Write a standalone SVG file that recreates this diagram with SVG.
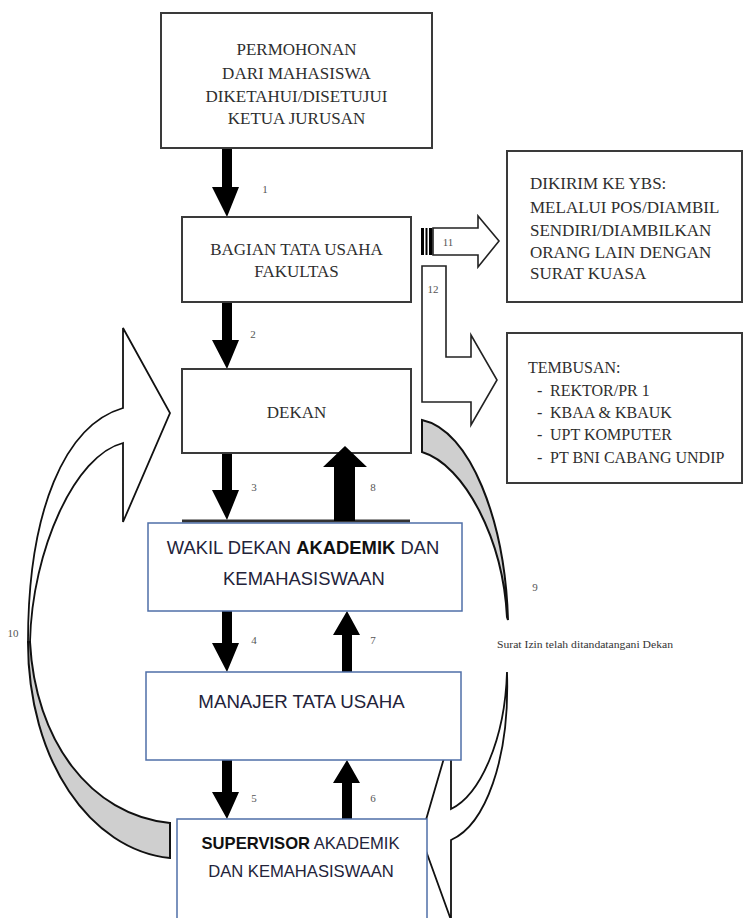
<svg xmlns="http://www.w3.org/2000/svg" width="745" height="918" viewBox="0 0 745 918">
  <style>
    .box { fill: #ffffff; stroke: #3a3a3a; stroke-width: 2; }
    .bluebox { fill: #ffffff; stroke: #4f6fa8; stroke-width: 1.5; }
    .serif { font-family: "Liberation Serif", "Times New Roman", serif; font-size: 17px; fill: #2e2e2e; }
    .serif16 { font-family: "Liberation Serif", "Times New Roman", serif; font-size: 16px; fill: #2e2e2e; }
    .sans { font-family: "Liberation Sans", Arial, sans-serif; fill: #23233a; }
    .num { font-family: "Liberation Serif", "Times New Roman", serif; font-size: 11px; fill: #555555; text-anchor: middle; }
    .mid { text-anchor: middle; }
    .solid { fill: #000000; }
    .hollow { fill: #ffffff; stroke: #222222; stroke-width: 1.6; stroke-linejoin: miter; }
    .curve { fill: #ffffff; stroke: #111111; stroke-width: 1.8; }
    .tail { fill: #cfcfcf; stroke: #111111; stroke-width: 2; }
  </style>

  <!-- curved and block connectors, drawn first so the boxes sit on top -->
  <g id="connectors">
    <!-- 10: return arrow on the left, grey tail at the bottom, head towards DEKAN -->
    <g id="arrow-10">
      <path class="tail" d="M 28,642 C 28,760 90,850 170,858 L 170,823 C 90,815 35,740 30,642 Z"/>
      <path class="curve" d="M 123,328 L 170,413 L 123,522 L 123,443 C 75,455 32,550 30,642 L 28,642 C 28,510 65,425 123,408 Z"/>
    </g>
    <!-- 9: signed letter goes back down on the right -->
    <g id="arrow-9">
      <path class="tail" d="M 422,420 C 470,430 505,520 508,620 L 507,617 C 503,540 465,465 422,452 Z"/>
      <path class="curve" d="M 507,672 C 505,740 480,795 451,809 L 451,734 L 421,837 L 451,920 L 451,840 C 485,825 510,760 507,672 Z"/>
    </g>
    <!-- 11: striped block arrow -->
    <g id="arrow-11">
      <rect class="solid" x="421" y="228" width="3" height="27"/>
      <rect class="solid" x="425.5" y="228" width="2" height="27"/>
      <rect class="solid" x="429" y="228" width="3.5" height="27"/>
      <path class="hollow" d="M 433,228 L 478,228 L 478,216 L 499,241 L 478,267 L 478,255 L 433,255 Z"/>
    </g>
    <!-- 12: bent block arrow -->
    <path id="arrow-12" class="hollow" d="M 422,266 L 446,266 L 446,357 L 471,357 L 471,335 L 497,380 L 471,425 L 471,402 L 422,402 Z"/>

    <!-- straight solid arrows, downward -->
    <path id="arrow-1" class="solid" d="M 222,148 L 232,148 L 232,187 L 239,187 L 227,217 L 212,187 L 222,187 Z"/>
    <path id="arrow-2" class="solid" d="M 222,302 L 232,302 L 232,340 L 239,340 L 227,369 L 212,340 L 222,340 Z"/>
    <path id="arrow-3" class="solid" d="M 222,453 L 232,453 L 232,490 L 239,490 L 227,520 L 212,490 L 222,490 Z"/>
    <path id="arrow-4" class="solid" d="M 222,611 L 232,611 L 232,643 L 239,643 L 227,672 L 212,643 L 222,643 Z"/>
    <path id="arrow-5" class="solid" d="M 222,760 L 232,760 L 232,792 L 239,792 L 227,819 L 212,792 L 222,792 Z"/>
    <!-- straight solid arrows, upward -->
    <path id="arrow-6" class="solid" d="M 342,819 L 352,819 L 352,783 L 360,783 L 347,760 L 333,783 L 342,783 Z"/>
    <path id="arrow-7" class="solid" d="M 342,672 L 352,672 L 352,635 L 360,635 L 347,611 L 333,635 L 342,635 Z"/>

    <line x1="182" y1="521" x2="410" y2="521" stroke="#333333" stroke-width="3"/>

    <!-- step numbers -->
    <text class="num" x="265" y="193">1</text>
    <text class="num" x="253" y="338">2</text>
    <text class="num" x="254" y="491">3</text>
    <text class="num" x="373" y="491">8</text>
    <text class="num" x="254" y="644">4</text>
    <text class="num" x="373" y="644">7</text>
    <text class="num" x="254" y="802">5</text>
    <text class="num" x="373" y="802">6</text>
    <text class="num" x="448" y="246" font-size="10">11</text>
    <text class="num" x="433" y="293" font-size="10">12</text>
    <text class="num" x="535" y="591" font-size="9">9</text>
    <text class="num" x="13" y="637" font-size="9">10</text>
    <text x="585" y="648" font-family="Liberation Serif, serif" font-size="9.5" fill="#333333" text-anchor="middle" textLength="176" lengthAdjust="spacingAndGlyphs">Surat Izin telah ditandatangani Dekan</text>
  </g>

  <g id="permohonan">
    <rect class="box" x="161" y="13" width="271" height="135"/>
    <text class="serif mid" x="296.5" y="55">PERMOHONAN</text>
    <text class="serif mid" x="296.5" y="79">DARI MAHASISWA</text>
    <text class="serif mid" x="296.5" y="102">DIKETAHUI/DISETUJUI</text>
    <text class="serif mid" x="296.5" y="124">KETUA JURUSAN</text>
  </g>

  <g id="bagian-tata-usaha">
    <rect class="box" x="182" y="217" width="229" height="85"/>
    <text class="serif mid" x="296.5" y="255">BAGIAN TATA USAHA</text>
    <text class="serif mid" x="296.5" y="277">FAKULTAS</text>
  </g>

  <g id="dekan">
    <rect class="box" x="182" y="369" width="229" height="84"/>
    <text class="serif mid" x="296.5" y="418">DEKAN</text>
  </g>

  <!-- 8 sits over the DEKAN box edge -->
  <path id="arrow-8" class="solid" d="M 334,521 L 355,521 L 355,467 L 367,467 L 345,446 L 323,467 L 334,467 Z"/>

  <g id="dikirim">
    <rect class="box" x="507" y="151" width="235" height="151"/>
    <text class="serif" x="530" y="189">DIKIRIM KE YBS:</text>
    <text class="serif" x="530" y="213">MELALUI POS/DIAMBIL</text>
    <text class="serif" x="530" y="236">SENDIRI/DIAMBILKAN</text>
    <text class="serif" x="530" y="258">ORANG LAIN DENGAN</text>
    <text class="serif" x="530" y="279">SURAT KUASA</text>
  </g>

  <g id="tembusan">
    <rect class="box" x="507" y="333" width="235" height="150"/>
    <text class="serif16" x="528" y="373">TEMBUSAN:</text>
    <text class="serif16" x="537" y="396">-</text>
    <text class="serif16" x="550" y="396">REKTOR/PR 1</text>
    <text class="serif16" x="537" y="418">-</text>
    <text class="serif16" x="550" y="418">KBAA &amp; KBAUK</text>
    <text class="serif16" x="537" y="440">-</text>
    <text class="serif16" x="550" y="440">UPT KOMPUTER</text>
    <text class="serif16" x="537" y="463">-</text>
    <text class="serif16" x="550" y="463">PT BNI CABANG UNDIP</text>
  </g>

  <g id="wakil-dekan">
    <rect class="bluebox" x="148" y="523" width="314" height="88"/>
    <text class="sans mid" x="303" y="554" font-size="18.4">WAKIL DEKAN <tspan font-weight="bold" fill="#111111">AKADEMIK</tspan> DAN</text>
    <text class="sans mid" x="304" y="585" font-size="18.4">KEMAHASISWAAN</text>
  </g>

  <g id="manajer-tata-usaha">
    <rect class="bluebox" x="146" y="672" width="315" height="88"/>
    <text class="sans mid" x="301.5" y="708" font-size="18.7">MANAJER TATA USAHA</text>
  </g>

  <g id="supervisor">
    <rect class="bluebox" x="177" y="819" width="250" height="120"/>
    <text class="sans mid" x="300.5" y="849" font-size="16.6"><tspan font-weight="bold" fill="#111111">SUPERVISOR</tspan> AKADEMIK</text>
    <text class="sans mid" x="301" y="877" font-size="16.6">DAN KEMAHASISWAAN</text>
  </g>
</svg>
